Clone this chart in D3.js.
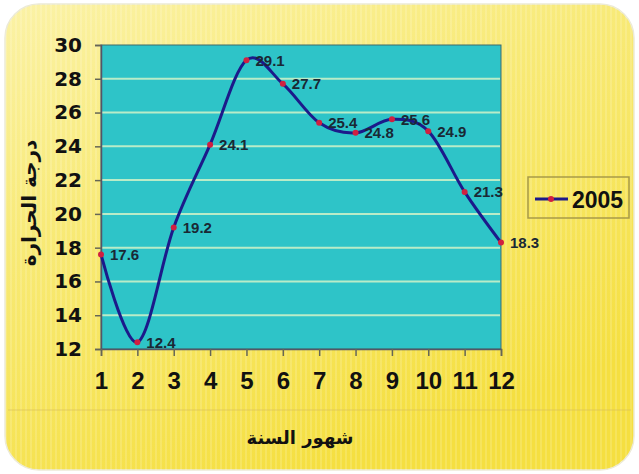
<!DOCTYPE html>
<html><head><meta charset="utf-8">
<script src="https://cdn.jsdelivr.net/npm/d3@7"></script>
<style>html,body{margin:0;padding:0;background:#fff;}svg{display:block;}</style>
</head><body>
<svg id="c" width="639" height="474"></svg>
<script>
const months = [1,2,3,4,5,6,7,8,9,10,11,12];
const temps = [17.6,12.4,19.2,24.1,29.1,27.7,25.4,24.8,25.6,24.9,21.3,18.3];
const yTicks = [12,14,16,18,20,22,24,26,28,30];
const seriesName = "2005";
const yTitle = "درجة الحرارة";
const xTitle = "شهور السنة";

const svg = d3.select("#c");
const defs = svg.append("defs");
const bg = defs.append("linearGradient").attr("id","bg").attr("x1","0").attr("y1","0").attr("x2","0.5").attr("y2","1");
bg.append("stop").attr("offset","0").attr("stop-color","#fbf2a6");
bg.append("stop").attr("offset","0.4").attr("stop-color","#f8ea78");
bg.append("stop").attr("offset","1").attr("stop-color","#f5df40");
const pat = defs.append("pattern").attr("id","stripes").attr("width",5).attr("height",5).attr("patternUnits","userSpaceOnUse");
pat.append("rect").attr("x",0).attr("y",0).attr("width",2).attr("height",5).attr("fill","#ffffff").attr("opacity",0.15);

svg.append("rect").attr("x",5).attr("y",4).attr("width",629).attr("height",466).attr("rx",34)
  .attr("fill","url(#bg)").attr("stroke","#ecead6").attr("stroke-width",1.5);
svg.append("rect").attr("x",5).attr("y",4).attr("width",629).attr("height",466).attr("rx",34)
  .attr("fill","url(#stripes)");
svg.append("line").attr("x1",8).attr("x2",631).attr("y1",410).attr("y2",410)
  .attr("stroke","#d6bc58").attr("stroke-width",1).attr("opacity",0.6);

const x = d3.scaleLinear().domain([1,12]).range([101,501]);
const y = d3.scaleLinear().domain([12,30]).range([349,45]);

svg.append("rect").attr("x",x(1)).attr("y",y(30)).attr("width",x(12)-x(1)).attr("height",y(12)-y(30))
  .attr("fill","#2ec4c8").attr("stroke","#3d6a6a").attr("stroke-width",1);

svg.append("g").selectAll("line").data(yTicks.filter(d=>d>12&&d<30)).join("line")
  .attr("x1",x(1)+1).attr("x2",x(12)-1).attr("y1",d=>y(d)).attr("y2",d=>y(d))
  .attr("stroke","#b9ecc8").attr("stroke-width",2);

const yAxis = svg.append("g").attr("transform",`translate(${x(1)},0)`)
  .call(d3.axisLeft(y).tickValues(yTicks).tickSize(6).tickPadding(13));
yAxis.select(".domain").attr("stroke","#556").attr("stroke-width",1.5);
yAxis.selectAll(".tick line").attr("stroke","#665").attr("stroke-width",1.5);
yAxis.selectAll("text").attr("font-family","DejaVu Sans").attr("font-weight","bold")
  .attr("font-size",20).attr("fill","#111");

const xAxis = svg.append("g").attr("transform",`translate(0,${y(12)})`)
  .call(d3.axisBottom(x).tickValues(months).tickSize(7).tickPadding(16).tickFormat(d3.format("d")));
xAxis.select(".domain").attr("stroke","#556").attr("stroke-width",1.5);
xAxis.selectAll(".tick line").attr("stroke","#665").attr("stroke-width",1.5);
xAxis.selectAll("text").attr("font-family","Liberation Sans").attr("font-weight","bold")
  .attr("font-size",24).attr("fill","#111");

const pts = months.map((m,i)=>[m,temps[i]]);
const line = d3.line().x(d=>x(d[0])).y(d=>y(d[1])).curve(d3.curveCardinal.tension(0));
svg.append("path").datum(pts).attr("d",line).attr("fill","none")
  .attr("stroke","#1c1a8a").attr("stroke-width",3);

svg.append("g").selectAll("circle").data(pts).join("circle")
  .attr("cx",d=>x(d[0])).attr("cy",d=>y(d[1])).attr("r",3).attr("fill","#d02040");

svg.append("g").selectAll("text").data(pts).join("text")
  .attr("x",d=>x(d[0])+9).attr("y",d=>y(d[1])+5.5)
  .attr("font-family","Liberation Sans").attr("font-weight","bold").attr("font-size",15)
  .attr("fill","#1a2834").text(d=>d3.format(".1f")(d[1]));

svg.append("text").attr("transform","translate(36,203) rotate(-90)").attr("text-anchor","middle")
  .attr("font-family","DejaVu Sans").attr("font-weight","bold").attr("font-size",20).attr("fill","#111")
  .text(yTitle);
svg.append("text").attr("x",300).attr("y",444).attr("text-anchor","middle")
  .attr("font-family","DejaVu Sans").attr("font-weight","bold").attr("font-size",18).attr("fill","#111")
  .text(xTitle);

const lg = svg.append("g");
lg.append("rect").attr("x",528).attr("y",177).attr("width",101).attr("height",41)
  .attr("fill","none").attr("stroke","#a89a48").attr("stroke-width",1.5);
lg.append("line").attr("x1",535).attr("x2",568).attr("y1",199).attr("y2",199)
  .attr("stroke","#1c1a8a").attr("stroke-width",3);
lg.append("circle").attr("cx",551).attr("cy",199).attr("r",3).attr("fill","#d02040");
lg.append("text").attr("x",572).attr("y",207.5).attr("font-family","Liberation Sans").attr("font-weight","bold")
  .attr("font-size",23).attr("fill","#111").text(seriesName);
</script>
</body></html>
